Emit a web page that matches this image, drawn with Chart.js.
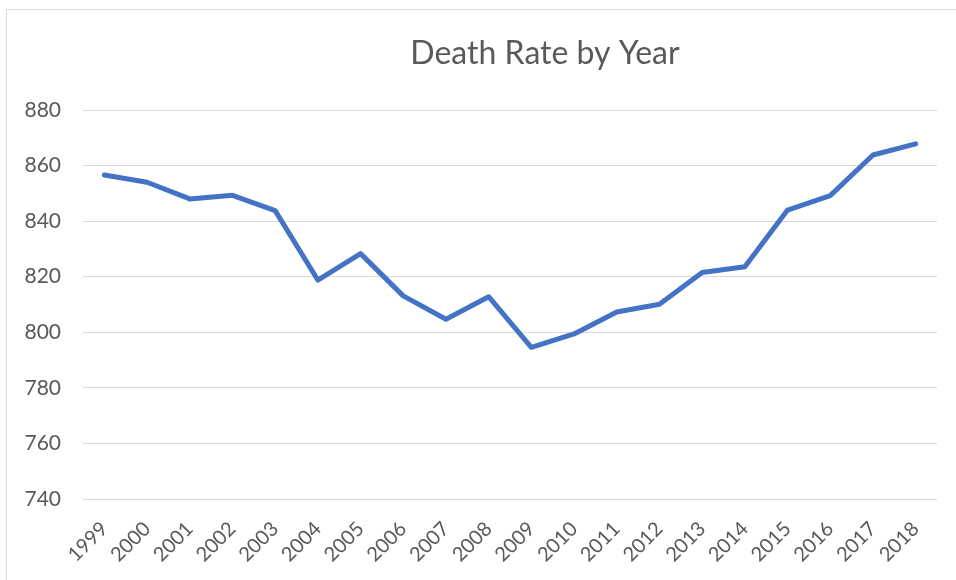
<!DOCTYPE html>
<html>
<head>
<meta charset="utf-8">
<script src="https://cdn.jsdelivr.net/npm/chart.js@4.4.0/dist/chart.umd.min.js"></script>
<style>
    html, body { margin: 0; padding: 0; background: #fff; }
    #moldura {
        position: absolute; left: 6px; top: 9px; width: 970px; height: 600px;
        border: 1px solid #d9d9d9;
    }
    #grafico-wrap { position: absolute; left: 0; top: 0; width: 956px; height: 580px; }
</style>
</head>
<body>
<div id="moldura"></div>
<div id="grafico-wrap"><canvas id="grafico-mortes" width="956" height="580"></canvas></div>
<script>
// Dados do gráfico
const anos = ['1999', '2000', '2001', '2002', '2003', '2004', '2005', '2006', '2007', '2008',
              '2009', '2010', '2011', '2012', '2013', '2014', '2015', '2016', '2017', '2018'];
const taxaMortes = [856.6, 854.0, 848.0, 849.3, 843.8, 818.8, 828.3, 813.1, 804.7, 812.8,
                    794.6, 799.4, 807.3, 810.1, 821.5, 823.6, 844.0, 849.2, 863.8, 867.8];
const tituloGrafico = 'Death Rate by Year';
const eixoY = { min: 740, max: 880, passo: 20 };

const corTexto = '#595959';
const corGrade = '#d9d9d9';

// Plugin para desenhar o título na posição do original
const pluginTitulo = {
    id: 'tituloFixo',
    afterDraw(chart) {
        const ctx = chart.ctx;
        ctx.save();
        ctx.font = '32px Lato';
        ctx.fillStyle = corTexto;
        ctx.textAlign = 'center';
        ctx.textBaseline = 'alphabetic';
        ctx.fillText(tituloGrafico, 545, 64);
        ctx.restore();
    }
};

const ctx = document.getElementById('grafico-mortes');
new Chart(ctx, {
    type: 'line',
    data: {
        labels: anos,
        datasets: [{
            label: 'Death Rate',
            data: taxaMortes,
            borderColor: '#4472c4',
            backgroundColor: '#4472c4',
            borderWidth: 5,
            pointRadius: 0,
            tension: 0,
            borderCapStyle: 'round',
            borderJoinStyle: 'round'
        }]
    },
    options: {
        responsive: false,
        animation: false,
        layout: {
            padding: { top: 110, right: 19, bottom: 0, left: 0 }
        },
        scales: {
            x: {
                offset: true,
                grid: { display: false, drawTicks: false },
                border: { display: false },
                ticks: {
                    color: corTexto,
                    font: { family: 'Lato', size: 20 },
                    minRotation: 45,
                    maxRotation: 45,
                    padding: 18,
                    autoSkip: false
                },
                afterFit(scale) { scale.height = 81; }
            },
            y: {
                min: eixoY.min,
                max: eixoY.max,
                grid: { color: corGrade, lineWidth: 1, drawTicks: false },
                border: { display: false },
                ticks: {
                    stepSize: eixoY.passo,
                    color: corTexto,
                    font: { family: 'Lato', size: 21 },
                    padding: 22
                },
                afterFit(scale) { scale.width = 83; }
            }
        },
        plugins: {
            legend: { display: false },
            title: { display: false },
            tooltip: { enabled: false }
        }
    },
    plugins: [pluginTitulo]
});
</script>
</body>
</html>
